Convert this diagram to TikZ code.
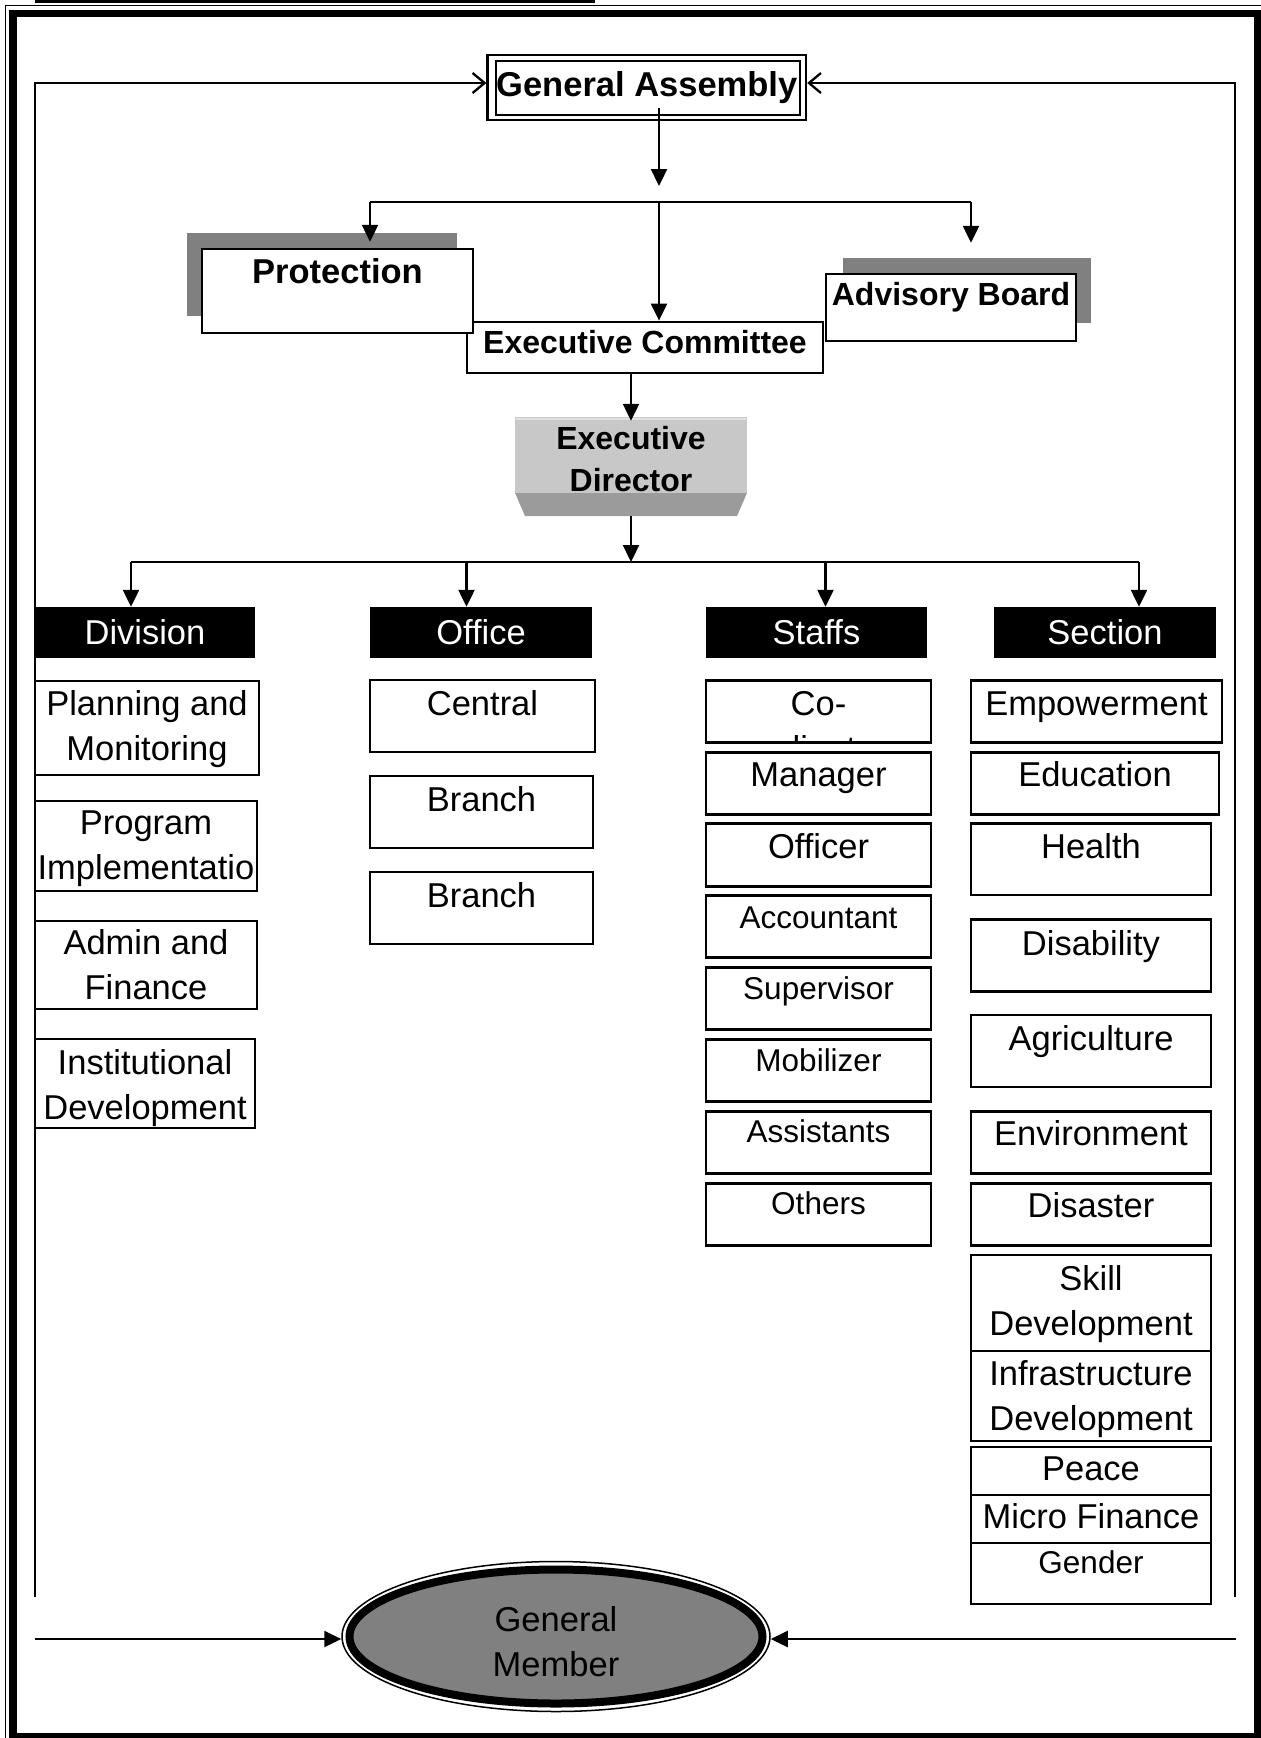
\documentclass[tikz,border=0pt]{standalone}
\usepackage{fontspec}
\setmainfont{Liberation Sans}
\usetikzlibrary{arrows.meta,fit,shapes.geometric,calc}
\definecolor{shadowgray}{RGB}{128,128,128}
\definecolor{edlight}{RGB}{200,200,200}
\definecolor{eddark}{RGB}{155,155,155}
\definecolor{edhigh}{RGB}{225,225,225}
\newcommand\orgbox[8][txt]{%
  \node[boxd, fit={(#3,#4) (#5,#6)}] (#2) {};
  \node[#1] (#2-t) at ({(#3+#5)/2},#7) {#8};}
\begin{document}
\begin{tikzpicture}[x=1pt,y=-1pt,
  ln/.style={line width=2.3pt},
  arr/.style={line width=2.3pt,-{Triangle[length=17pt,width=16pt]}},
  oarr/.style={line width=2.3pt,-{Straight Barb[length=12pt,width=20pt]}},
  boxd/.style={draw,line width=2.8pt,inner sep=0pt,fill=white},
  txt/.style={font=\fontsize{34.5}{45}\selectfont,align=center,inner sep=0pt},
  stxt/.style={font=\fontsize{31.5}{42}\selectfont,align=center,inner sep=0pt},
  btxt/.style={font=\bfseries\fontsize{32}{42}\selectfont,align=center,inner sep=0pt},
  bbtxt/.style={font=\bfseries\fontsize{34.5}{45}\selectfont,align=center,inner sep=0pt},
  hdr/.style={fill=black,text=white,inner sep=0pt,font=\fontsize{34.5}{45}\selectfont},
  shadowbox/.style={fill=shadowgray,inner sep=0pt}]
\useasboundingbox (0,0) rectangle (1261,1738);
\clip (0,0) rectangle (1261,1738);
% page frame
\fill (35,0) rectangle (595,3);
\draw[line width=1.3pt] (5.5,5.5) rectangle (1290,1760);
\draw[line width=7.4pt] (13,13.5) rectangle (1257.5,1737);

% General Assembly
\node[draw,line width=2.3pt,minimum width=318.5pt,minimum height=65pt,inner sep=0pt,bbtxt] (GA) at (646.75,87.5) {General Assembly};
\node[draw,line width=2.5pt,minimum width=304pt,minimum height=54pt,inner sep=0pt] (GAi) at (648,88) {};

% Executive Committee
\orgbox[btxt]{EC}{467}{322}{823}{373}{342}{Executive Committee}
% Protection
\node[shadowbox,fit={(187,233) (457,316)}] (PS) {};
\orgbox[bbtxt]{Pro}{202}{249}{473}{333}{271}{Protection}
% Advisory Board
\node[shadowbox,fit={(843,258) (1091,323)}] (ABs) {};
\orgbox[btxt]{AB}{826}{274}{1076}{341}{297.5}{Advisory Board}

% Executive Director
\node[inner sep=0pt,fit={(515,417) (747,516)}] (ED) {};
\fill[edlight] (515,417) rectangle (747,493);
\fill[eddark] (515,493) -- (747,493) -- (737,516) -- (525,516) -- cycle;
\draw[edhigh,line width=2pt] (516,418.5) -- (746,418.5);
\node[btxt] (ED-t) at (631,459) {Executive\\Director};

% headers
\node[hdr,minimum width=220pt,minimum height=51pt] (Div) at (145,632.5) {Division};
\node[hdr,minimum width=222pt,minimum height=51pt] (Off) at (481,632.5) {Office};
\node[hdr,minimum width=221pt,minimum height=51pt] (Sta) at (816.5,632.5) {Staffs};
\node[hdr,minimum width=222pt,minimum height=51pt] (Sec) at (1105,632.5) {Section};

% Division items
\orgbox{pm}{35}{681}{259}{775}{729}{Planning and\\Monitoring}
\orgbox{pi}{35}{801}{257}{891}{848.3}{Program\\Implementatio}
\orgbox{af}{35}{921}{257}{1009}{965}{Admin and\\Finance}
\orgbox{id}{35}{1039}{255}{1128}{1087.8}{Institutional\\Development}

% Office items
\orgbox{oc}{370}{680}{595}{752}{703.6}{Central}
\orgbox{ob1}{370}{776}{593}{848}{799}{Branch}
\orgbox{ob2}{370}{872}{593}{944}{895}{Branch}

% Staffs items
\node[boxd,fit={(706,680.5) (931,742.4)}] (co) {};
\begin{scope}
  \clip (707.5,682) rectangle (929.5,741);
  \node[txt] (co-t) at (818.5,726.1) {Co-\\ordinator};
\end{scope}
\orgbox{sm}{706}{752.4}{931}{814.4}{778}{Manager}
\orgbox{so}{706}{823.3}{931}{886.5}{846.6}{Officer}
\orgbox[stxt]{sa}{706}{895.4}{931}{957.4}{917.5}{Accountant}
\orgbox[stxt]{ss}{706}{967.4}{931}{1029.4}{991.5}{Supervisor}
\orgbox[stxt]{smo}{706}{1039.4}{931}{1101.5}{1060.4}{Mobilizer}
\orgbox[stxt]{sas}{706}{1111.4}{931}{1173.5}{1131.4}{Assistants}
\orgbox[stxt]{sot}{706}{1183.5}{931}{1245.5}{1203.4}{Others}

% Section items
\orgbox{xe}{971}{680.4}{1222}{742.4}{707}{Empowerment}
\orgbox{xed}{971}{752.4}{1219}{814.4}{774.6}{Education}
\orgbox{xh}{971}{823.3}{1211}{895}{846.6}{Health}
\orgbox{xd}{971}{919.7}{1211}{991.7}{946.5}{Disability}
\orgbox{xa}{971}{1015}{1211}{1087}{1041.8}{Agriculture}
\orgbox{xen}{971}{1111.4}{1211}{1173.5}{1133.6}{Environment}
\orgbox{xdi}{971}{1183.5}{1211}{1245.5}{1205.6}{Disaster}
\orgbox{xs}{971}{1255}{1211}{1351}{1304}{Skill\\Development}
\orgbox{xi}{971}{1351}{1211}{1441}{1399}{Infrastructure\\Development}
\orgbox{xp}{971}{1447}{1211}{1495}{1469}{Peace}
\orgbox{xm}{971}{1495}{1211}{1543}{1516}{Micro Finance}
\orgbox[stxt]{xg}{971}{1543}{1211}{1604}{1562}{Gender}

% General Member
\node[ellipse,draw,line width=1.5pt,minimum width=428pt,minimum height=150pt,inner sep=0pt] (GM) at (556,1636.5) {};
\node[ellipse,draw,line width=8pt,fill=shadowgray,minimum width=413pt,minimum height=134pt,inner sep=0pt] (GMi) at (556,1636.5) {};
\node[txt] (GM-t) at (556,1641.4) {General\\Member};

% connectors
\coordinate (TL) at (35,83);
\coordinate (BL) at (35,1597);
\coordinate (TR) at (1235,83);
\coordinate (BR) at (1235,1597);
\draw[oarr] (BL) -- (TL) -- (TL -| GA.west);
\draw[oarr] (BR) -- (TR) -- (TR -| GA.east);

\coordinate (J) at (659,202);
\coordinate (JL) at (370,202);
\coordinate (JR) at (971,202);
\draw[arr] ($(GA.center -| J)+(0,20)$) -- ($(J)+(0,-16)$);
\draw[ln] (JL) -- (JR);
\draw[arr] (JL) -- ($(JL |- PS.north)+(0,9)$);
\draw[arr] (JR) -- ($(JR |- ABs.north)+(0,-15)$);
\draw[arr] (J) -- (J |- EC.north);

\draw[arr] (EC.south -| ED.north) -- ($(ED.north)+(0,4)$);
\coordinate (B) at (631,562);
\coordinate (B1) at (131,562);
\coordinate (B2) at (466.5,562);
\coordinate (B3) at (825.5,562);
\coordinate (B4) at (1139,562);
\draw[arr] (ED.south) -- (B);
\draw[ln] (B1) -- (B4);
\draw[arr] (B1) -- (B1 |- Div.north);
\draw[arr] (B2) -- (B2 |- Off.north);
\draw[arr] (B3) -- (B3 |- Sta.north);
\draw[arr] (B4) -- (B4 |- Sec.north);

\coordinate (GL) at (35,1639);
\coordinate (GR) at (1236,1639);
\draw[arr] (GL) -- (GL -| GM.west);
\draw[arr] (GR) -- (GR -| GM.east);
\end{tikzpicture}
\end{document}
